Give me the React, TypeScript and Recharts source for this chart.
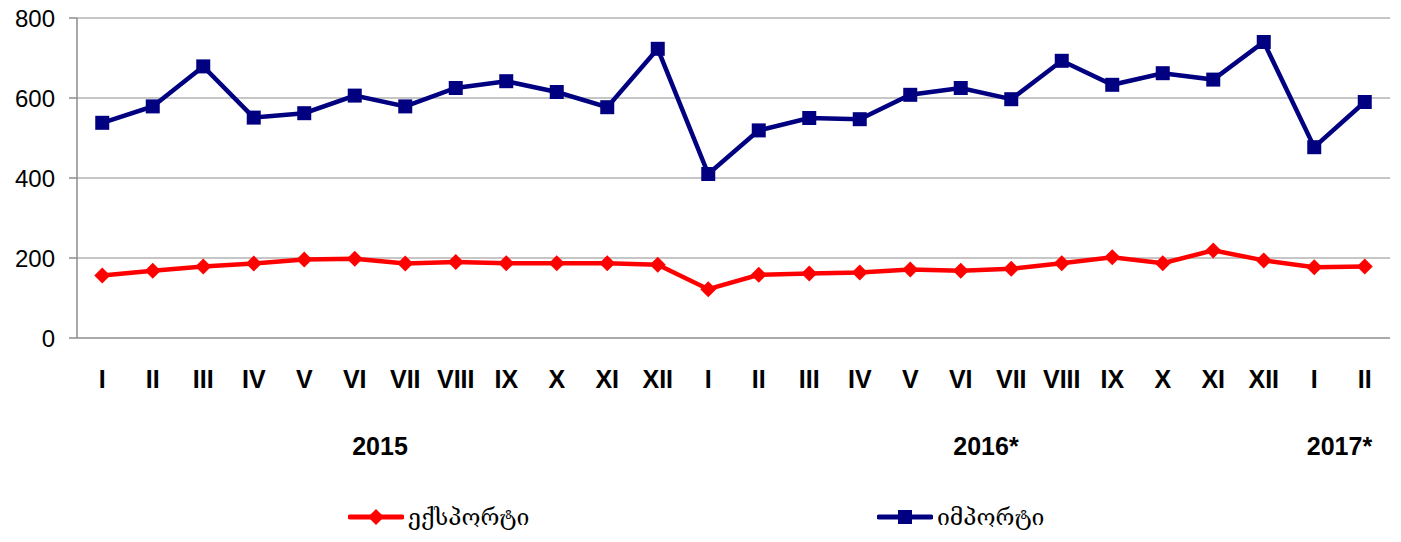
import { LineChart, Line, XAxis, YAxis, CartesianGrid, Legend } from 'recharts';

const months = [
  'I', 'II', 'III', 'IV', 'V', 'VI', 'VII', 'VIII', 'IX', 'X', 'XI', 'XII',
  'I', 'II', 'III', 'IV', 'V', 'VI', 'VII', 'VIII', 'IX', 'X', 'XI', 'XII',
  'I', 'II',
];

const exportValues = [
  156, 168, 179, 186, 196, 198, 186, 190, 187, 187, 187, 183,
  122, 158, 161, 164, 171, 168, 173, 187, 202, 187, 219, 194,
  177, 179,
];

const importValues = [
  538, 579, 679, 551, 562, 606, 579, 625, 642, 615, 577, 723,
  410, 519, 550, 547, 608, 625, 597, 693, 633, 662, 646, 740,
  477, 590,
];

// year label sits under the middle of its month group
const years = [
  { label: '2015', first: 0, last: 11 },
  { label: '2016*', first: 12, last: 23 },
  { label: '2017*', first: 24, last: 25 },
];

const yTicks = [0, 200, 400, 600, 800];

const W = 1401;
const H = 542;
const M = { top: 18, right: 11, left: 0, bottom: 0 };
const Y_W = 77;
const BAND = (W - M.left - M.right - Y_W) / months.length;

const COLORS = {
  export: '#ff0000',
  import: '#000080',
};

const series = [
  { key: 'export', name: 'ექსპორტი', color: COLORS.export, shape: 'diamond', legendX: 348 },
  { key: 'import', name: 'იმპორტი', color: COLORS.import, shape: 'square', legendX: 877 },
];

const data = months.map((m, i) => ({
  month: m,
  export: exportValues[i],
  import: importValues[i],
}));

const Diamond = ({ cx, cy, color, r = 8 }: any) => (
  <polygon
    points={`${cx},${cy - r} ${cx + r},${cy} ${cx},${cy + r} ${cx - r},${cy}`}
    fill={color}
  />
);

const Square = ({ cx, cy, color, s = 14 }: any) => (
  <rect x={cx - s / 2} y={cy - s / 2} width={s} height={s} fill={color} />
);

const MonthTick = ({ x, y, payload, index }: any) => {
  const year = years.find((yr) => Math.floor((yr.first + yr.last) / 2) === index);
  let yearX = x;
  if (year) {
    const mid = (year.first + year.last) / 2;
    yearX = x + (mid - index) * BAND;
  }
  return (
    <g>
      <text
        x={x}
        y={y + 50}
        textAnchor="middle"
        fontFamily="Liberation Sans, Arial, sans-serif"
        fontWeight="bold"
        fontSize={25}
        fill="#000"
      >
        {payload.value}
      </text>
      {year && (
        <text
          x={yearX}
          y={y + 117}
          textAnchor="middle"
          fontFamily="Liberation Sans, Arial, sans-serif"
          fontWeight="bold"
          fontSize={25}
          fill="#000"
        >
          {year.label}
        </text>
      )}
    </g>
  );
};

const CustomLegend = () => (
  <div style={{ position: 'relative', width: W, height: 50 }}>
    {series.map((s) => (
      <div
        key={s.key}
        style={{
          position: 'absolute',
          left: s.legendX,
          top: 12,
          display: 'flex',
          alignItems: 'center',
          whiteSpace: 'nowrap',
        }}
      >
        <svg width={56} height={20}>
          <line x1={2} y1={10} x2={54} y2={10} stroke={s.color} strokeWidth={5} strokeLinecap="round" />
          {s.shape === 'diamond' ? (
            <Diamond cx={28} cy={10} color={s.color} r={8} />
          ) : (
            <Square cx={28} cy={10} color={s.color} s={14} />
          )}
        </svg>
        <span
          style={{
            marginLeft: 4,
            fontFamily: 'DejaVu Serif, DejaVu Sans, serif',
            fontSize: 23,
            color: '#000',
          }}
        >
          {s.name}
        </span>
      </div>
    ))}
  </div>
);

export default function App() {
  return (
    <div style={{ position: 'absolute', left: 0, top: 0, width: W, height: H, background: '#fff' }}>
      <LineChart width={W} height={H} data={data} margin={M}>
        <CartesianGrid vertical={false} stroke="#b3b3b3" strokeWidth={1.5} />
        <XAxis
          dataKey="month"
          interval={0}
          height={154}
          padding={{ left: BAND / 2, right: BAND / 2 }}
          tickLine={false}
          tickSize={0}
          tickMargin={0}
          axisLine={{ stroke: '#a0a0a0', strokeWidth: 1.5 }}
          tick={<MonthTick />}
        />
        <YAxis
          domain={[0, 800]}
          ticks={yTicks}
          width={Y_W}
          tickSize={8}
          tickMargin={14}
          axisLine={{ stroke: '#8c8c8c', strokeWidth: 1.5 }}
          tickLine={{ stroke: '#8c8c8c', strokeWidth: 1.5 }}
          tick={{ fontSize: 24, fill: '#000', fontFamily: 'Liberation Sans, Arial, sans-serif' }}
        />
        <Legend verticalAlign="bottom" content={<CustomLegend />} wrapperStyle={{ left: 0, width: W, height: 50 }} />
        {series.map((s) => (
          <Line
            key={s.key}
            dataKey={s.key}
            name={s.name}
            stroke={s.color}
            strokeWidth={4.5}
            isAnimationActive={false}
            dot={(p: any) =>
              s.shape === 'diamond' ? (
                <Diamond key={`d-${s.key}-${p.index}`} cx={p.cx} cy={p.cy} color={s.color} r={8} />
              ) : (
                <Square key={`d-${s.key}-${p.index}`} cx={p.cx} cy={p.cy} color={s.color} s={14} />
              )
            }
            activeDot={false}
          />
        ))}
      </LineChart>
    </div>
  );
}
